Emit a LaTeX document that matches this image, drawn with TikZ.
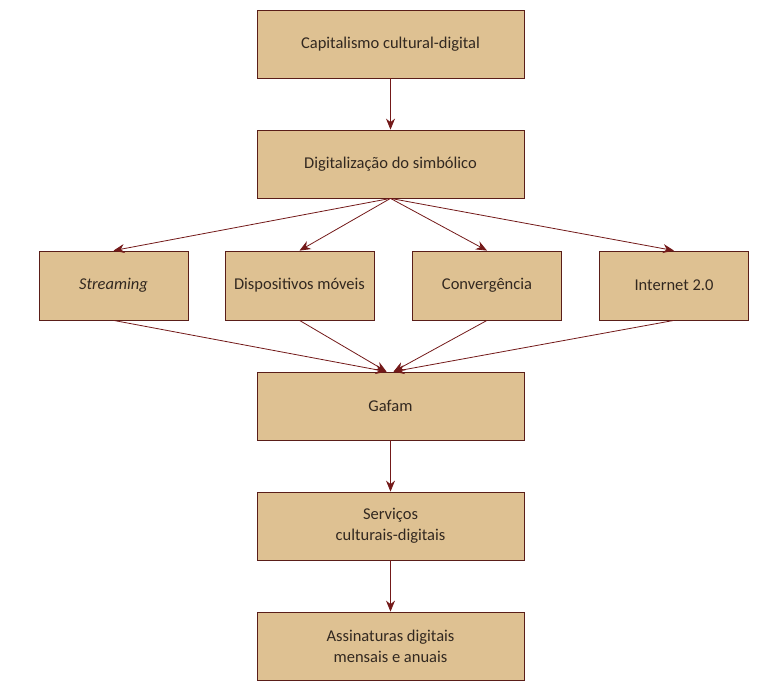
\documentclass[tikz,border=0pt]{standalone}
\usepackage{fontspec}
\setmainfont{Carlito}
\usetikzlibrary{arrows.meta}
\definecolor{boxfill}{RGB}{222,193,146}
\definecolor{boxline}{RGB}{90,30,25}
\definecolor{arrowred}{RGB}{115,25,25}
\definecolor{textgray}{RGB}{50,40,32}
\tikzset{
  bigbox/.style={draw=boxline, fill=boxfill, line width=0.8pt, minimum width=267pt, minimum height=68pt, align=center, text=textgray, font=\fontsize{16.5}{21}\selectfont, inner sep=0pt},
  smallbox/.style={bigbox, minimum width=149pt, minimum height=69pt},
  link/.style={draw=arrowred, line width=0.8pt, -{Stealth[length=11pt,width=9pt]}}
}
\begin{document}
\begin{tikzpicture}[x=1pt,y=-1pt]
\useasboundingbox (0,0) rectangle (757,687);
\node[bigbox] (capital) at (390.5,44) {Capitalismo cultural-digital};
\node[bigbox] (digital) at (390.5,164) {Digitalização do simbólico};
\node[smallbox] (stream) at (113.5,285.5) {\itshape Streaming};
\node[smallbox] (disp) at (299.5,285.5) {Dispositivos móveis};
\node[smallbox] (conv) at (487,285.5) {Convergência};
\node[smallbox] (inter) at (674,285.5) {Internet 2.0};
\node[bigbox] (gafam) at (390.5,406) {Gafam};
\node[bigbox] (serv) at (390.5,526) {Serviços\\culturais-digitais};
\node[bigbox] (assin) at (390.5,646) {Assinaturas digitais\\mensais e anuais};
% meeting points on top of Gafam
\coordinate (gafL) at ([xshift=-4pt]gafam.north);
\coordinate (gafR) at ([xshift=3pt]gafam.north);
\draw[link] (capital) -- (digital);
\foreach \b in {stream,disp,conv,inter}
\draw[link] (digital.south) -- (\b.north);
\draw[link] (stream.south) -- (gafL);
\draw[link] (disp.south) -- (gafL);
\draw[link] (conv.south) -- (gafR);
\draw[link] (inter.south) -- (gafR);
\draw[link] (gafam) -- (serv);
\draw[link] (serv) -- (assin);
\end{tikzpicture}
\end{document}
